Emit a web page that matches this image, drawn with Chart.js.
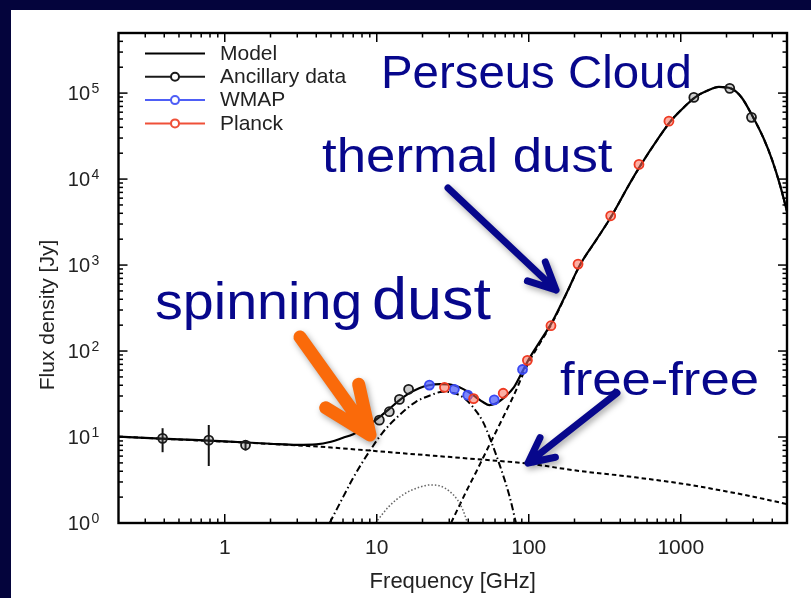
<!DOCTYPE html>
<html>
<head>
<meta charset="utf-8">
<title>Perseus Cloud</title>
<script src="https://cdn.jsdelivr.net/npm/chart.js@4.4.1/dist/chart.umd.min.js"></script>
<style>
  html, body { margin: 0; padding: 0; background: #04043c; }
  #wrap { width: 811px; height: 598px; position: relative; }
</style>
</head>
<body>
<div id="wrap"><canvas id="sedChart"></canvas></div>
<script>
// SED of the Perseus cloud: frequency in GHz, flux density in Jy

// full model (sum of all components)
const modelFreq = [0.2, 0.5, 1, 2, 3, 4, 5, 6, 7, 8, 9, 10.4, 12, 14, 16, 19, 22, 26, 30, 35, 40, 45, 50, 55, 60, 70, 80, 91, 100, 120, 143, 180, 217, 280, 353, 450, 545, 700, 857, 1000, 1249, 1500, 1780, 2141, 2500, 2997, 3500, 4000, 4500, 5000];
const modelFlux = [10.1, 9.4, 8.9, 8.35, 8.1, 8.2, 8.8, 9.8, 10.8, 12.3, 14, 17, 21, 26.5, 31.5, 37, 40, 41.3, 41, 38, 33.5, 29, 25.5, 23.5, 24.3, 29.5, 38, 58, 80, 134, 220, 500, 1000, 2000, 3800, 8200, 14500, 28500, 47000, 63000, 90000, 107000, 118000, 113000, 90000, 52000, 30000, 16500, 8500, 4200];

// free-free
const ffFreq = [0.2, 0.5, 1, 1.4, 2, 3, 5, 10, 20, 50, 100, 200, 500, 1000, 2000, 3000, 5000];
const ffFlux = [10.1, 9.35, 8.85, 8.6, 8.3, 8.0, 7.55, 6.85, 6.2, 5.45, 4.9, 4.1, 3.4, 2.88, 2.33, 2.02, 1.66];

// spinning dust, main component
const sdFreq = [4.9, 6, 6.9, 8, 9, 10.9, 14.1, 18, 23, 27, 32, 37, 42.8, 50, 56.4, 65, 75, 82.4];
const sdFlux = [1, 2.0, 3.2, 5.0, 6.9, 11.2, 18, 25.5, 31, 33.6, 32.5, 29, 22.5, 15, 9, 4.5, 2, 1];

// spinning dust, second component
const sd2Freq = [9.8, 12, 15, 19, 22.5, 26, 30, 34, 37, 39.5];
const sd2Flux = [1, 1.55, 2.15, 2.6, 2.77, 2.7, 2.35, 1.85, 1.4, 1];

// thermal dust
const tdFreq = [30.8, 35, 40, 45, 50, 56.4, 63, 70, 80, 91, 100, 120, 143, 180, 217, 280, 353, 450, 545, 700, 857, 1000, 1249, 1500, 1780, 2141, 2500, 2997, 3500, 4000, 4500, 5000];
const tdFlux = [1, 1.6, 2.6, 3.9, 5.7, 8.8, 13, 19, 31, 52, 74, 128, 214, 495, 995, 1995, 3795, 8195, 14495, 28495, 46995, 62995, 89995, 106995, 117995, 112995, 89995, 51995, 29995, 16495, 8495, 4198];

// measurements
const ancFreq = [0.39, 0.785, 1.37, 10.4, 12.1, 14.1, 16.2, 1219, 2100, 2920];
const ancFlux = [9.66, 9.2, 8.07, 15.7, 19.7, 27.4, 35.9, 89100, 113500, 52200];
const ancErr  = [3.0, 4.6, 1.1, 0, 0, 0, 0, 0, 0, 0];
const wmapFreq = [22.2, 32.4, 39.7, 59.3, 91];
const wmapFlux = [40.2, 35.9, 30.7, 27, 61];
const planckFreq = [27.9, 43.4, 67.9, 98, 140, 211, 346, 531, 836];
const planckFlux = [37.8, 28, 32.3, 78, 197, 1027, 3740, 14800, 47200];

// axes
const xMajor = [1, 10, 100, 1000];
const xTickLabels = ['1', '10', '100', '1000'];
const yExponents = [0, 1, 2, 3, 4, 5];

const NAVY = '#07078c';
const FONT = '"Liberation Sans", Arial, Helvetica, sans-serif';

const pts = (fs, vs) => fs.map((f, i) => ({ x: f, y: vs[i] }));

function slideText(ctx, str, x, y, size, sx) {
    ctx.save();
    ctx.translate(x, y);
    ctx.scale(sx, 1);
    ctx.font = size + 'px ' + FONT;
    ctx.fillStyle = NAVY;
    ctx.textAlign = 'left';
    ctx.textBaseline = 'alphabetic';
    ctx.fillText(str, 0, 0);
    ctx.restore();
}

function arrow(ctx, x0, y0, x1, y1, head, spread, width, color) {
    const ang = Math.atan2(y0 - y1, x0 - x1);
    ctx.save();
    ctx.strokeStyle = color;
    ctx.lineWidth = width;
    ctx.lineCap = 'round';
    ctx.lineJoin = 'round';
    ctx.shadowColor = 'rgba(0,0,0,0.35)';
    ctx.shadowBlur = 6;
    ctx.shadowOffsetX = 2;
    ctx.shadowOffsetY = 3;
    ctx.beginPath();
    ctx.moveTo(x0, y0);
    ctx.lineTo(x1, y1);
    ctx.moveTo(x1 + head * Math.cos(ang + spread), y1 + head * Math.sin(ang + spread));
    ctx.lineTo(x1, y1);
    ctx.lineTo(x1 + head * Math.cos(ang - spread), y1 + head * Math.sin(ang - spread));
    ctx.stroke();
    ctx.restore();
}

const sedDecor = {
    id: 'sedDecor',
    beforeDraw(chart) {
        const { ctx, width, height } = chart;
        ctx.save();
        ctx.fillStyle = '#04043c';
        ctx.fillRect(0, 0, width, height);
        ctx.fillStyle = '#ffffff';
        ctx.fillRect(11, 10, width - 11, height - 10);
        ctx.restore();
    },
    beforeDatasetsDraw(chart) {
        // error bars of the low frequency surveys
        const { ctx } = chart;
        const x = chart.scales.x, y = chart.scales.y;
        ctx.save();
        ctx.strokeStyle = '#111';
        ctx.lineWidth = 2;
        ancFreq.forEach((f, i) => {
            if (!ancErr[i]) return;
            const px = x.getPixelForValue(f);
            ctx.beginPath();
            ctx.moveTo(px, y.getPixelForValue(ancFlux[i] - ancErr[i]));
            ctx.lineTo(px, y.getPixelForValue(ancFlux[i] + ancErr[i]));
            ctx.stroke();
        });
        ctx.restore();
    },
    afterDraw(chart) {
        const { ctx } = chart;
        const x = chart.scales.x, y = chart.scales.y;
        const { left, right, top, bottom } = chart.chartArea;

        // inward ticks on all four sides
        ctx.save();
        ctx.strokeStyle = '#000';
        ctx.lineWidth = 1.5;
        const tick = (x0, y0, x1, y1) => { ctx.beginPath(); ctx.moveTo(x0, y0); ctx.lineTo(x1, y1); ctx.stroke(); };
        [0.1, 1, 10, 100, 1000].forEach(d => {
            for (let m = 1; m <= 9; m++) {
                const v = m * d;
                if (v <= 0.2 || v >= 5000) continue;
                const len = m === 1 ? 9 : 4.5;
                const px = x.getPixelForValue(v);
                tick(px, bottom, px, bottom - len);
                tick(px, top, px, top + len);
            }
        });
        [1, 10, 100, 1000, 10000, 100000].forEach(d => {
            for (let m = 1; m <= 9; m++) {
                const v = m * d;
                if (v <= 1 || v >= 500000) continue;
                const len = m === 1 ? 9 : 4.5;
                const py = y.getPixelForValue(v);
                tick(left, py, left + len, py);
                tick(right, py, right - len, py);
            }
        });
        ctx.lineWidth = 2.4;
        ctx.strokeRect(left, top, right - left, bottom - top);

        // tick labels
        ctx.fillStyle = '#222';
        ctx.font = '21px ' + FONT;
        ctx.textAlign = 'center';
        ctx.textBaseline = 'middle';
        xMajor.forEach((v, i) => ctx.fillText(xTickLabels[i], x.getPixelForValue(v), 548));
        yExponents.forEach(e => {
            const py = y.getPixelForValue(Math.pow(10, e));
            ctx.font = '20px ' + FONT;
            ctx.textAlign = 'right';
            ctx.textBaseline = 'middle';
            ctx.fillText('10', 90, py + 1);
            ctx.font = '14px ' + FONT;
            ctx.textAlign = 'left';
            ctx.textBaseline = 'alphabetic';
            ctx.fillText(String(e), 91.5, py - 0.5);
        });

        // axis titles
        ctx.font = '22px ' + FONT;
        ctx.textAlign = 'center';
        ctx.textBaseline = 'middle';
        ctx.fillText('Frequency [GHz]', (left + right) / 2, 582);
        ctx.save();
        ctx.translate(48, 315);
        ctx.rotate(-Math.PI / 2);
        ctx.font = '21px ' + FONT;
        ctx.fillText('Flux density [Jy]', 0, 0);
        ctx.restore();

        // legend, top left inside the frame
        const items = [
            { label: 'Model', color: '#000', marker: false },
            { label: 'Ancillary data', color: '#1a1a1a', marker: true },
            { label: 'WMAP', color: '#4e5ef6', marker: true },
            { label: 'Planck', color: '#ef5038', marker: true }
        ];
        items.forEach((it, i) => {
            const ly = 53.5 + i * 23.3;
            ctx.strokeStyle = it.color;
            ctx.lineWidth = 2;
            tick(145, ly, 205, ly);
            if (it.marker) {
                ctx.beginPath();
                ctx.arc(175, ly, 4, 0, Math.PI * 2);
                ctx.fillStyle = '#fff';
                ctx.fill();
                ctx.stroke();
            }
            ctx.fillStyle = '#222';
            ctx.font = '21px ' + FONT;
            ctx.textAlign = 'left';
            ctx.textBaseline = 'middle';
            ctx.fillText(it.label, 220, ly + 0.5);
        });
        ctx.restore();

        // slide annotations
        slideText(ctx, 'Perseus Cloud', 381, 88, 46, 1.03);
        slideText(ctx, 'thermal dust', 322, 172, 48, 1.1);
        slideText(ctx, 'spinning', 155, 319, 52, 1.07);
        slideText(ctx, 'dust', 372, 319, 60, 1.05);
        slideText(ctx, 'free-free', 560, 395, 47, 1.12);

        arrow(ctx, 448, 188, 556, 290, 30, 0.45, 7, NAVY);
        arrow(ctx, 617, 393, 528, 463, 28, 0.46, 7, NAVY);
        arrow(ctx, 300, 337, 370, 435, 52, 0.4, 13, '#fa6a0a');
    }
};

const lineStyle = { pointRadius: 0, fill: false, cubicInterpolationMode: 'monotone', borderColor: '#000' };
const markStyle = { showLine: false, pointRadius: 4.5, pointBorderWidth: 1.8, pointHoverRadius: 4.5 };

new Chart(document.getElementById('sedChart'), {
    type: 'line',
    data: {
        datasets: [
            { label: 'Planck', data: pts(planckFreq, planckFlux), ...markStyle, pointBorderColor: '#ee3a22', pointBackgroundColor: 'rgba(250,110,90,0.55)', borderColor: '#ee3a22' },
            { label: 'WMAP', data: pts(wmapFreq, wmapFlux), ...markStyle, pointBorderColor: '#3a48f2', pointBackgroundColor: 'rgba(80,95,250,0.75)', borderColor: '#3a48f2' },
            { label: 'Ancillary data', data: pts(ancFreq, ancFlux), ...markStyle, pointBorderColor: '#1a1a1a', pointBackgroundColor: 'rgba(90,90,90,0.3)', borderColor: '#1a1a1a' },
            { label: 'Model', data: pts(modelFreq, modelFlux), ...lineStyle, borderWidth: 2.2 },
            { label: 'Free-free', data: pts(ffFreq, ffFlux), ...lineStyle, borderWidth: 2, borderDash: [4.5, 3] },
            { label: 'Spinning dust', data: pts(sdFreq, sdFlux), ...lineStyle, borderWidth: 2, borderDash: [7, 3, 1.5, 3] },
            { label: 'Spinning dust (2)', data: pts(sd2Freq, sd2Flux), ...lineStyle, borderWidth: 1.5, borderColor: '#666', borderDash: [1.5, 2] },
            { label: 'Thermal dust', data: pts(tdFreq, tdFlux), ...lineStyle, borderWidth: 2, borderDash: [5.5, 3.5] }
        ]
    },
    options: {
        responsive: true,
        maintainAspectRatio: false,
        animation: false,
        devicePixelRatio: 1,
        layout: { padding: { left: 118.5, right: 24, top: 33, bottom: 75 } },
        plugins: {
            legend: { display: false },
            tooltip: { enabled: false }
        },
        scales: {
            x: { type: 'logarithmic', min: 0.2, max: 5000, bounds: 'data', display: false },
            y: { type: 'logarithmic', min: 1, max: 500000, bounds: 'data', display: false }
        }
    },
    plugins: [sedDecor]
});
</script>
</body>
</html>
